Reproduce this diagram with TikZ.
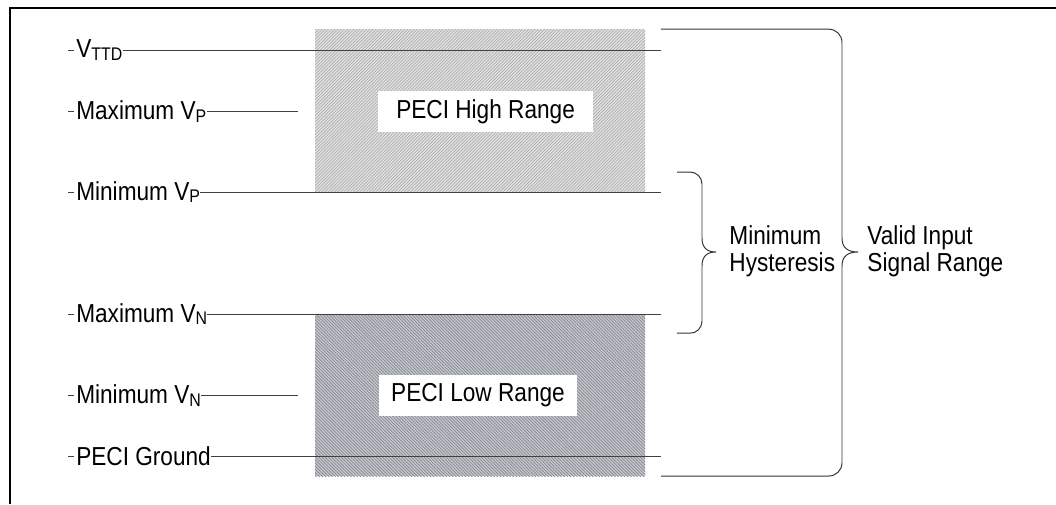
\documentclass[tikz,border=0pt]{standalone}
\usepackage{fontspec}
\setmainfont{Liberation Sans}[FakeStretch=0.87]
\usepackage{tikz}
\usetikzlibrary{patterns.meta}
\definecolor{hifill}{RGB}{226,226,226}
\definecolor{hihatch}{RGB}{172,172,172}
\definecolor{lofill}{RGB}{200,202,208}
\definecolor{lohatch}{RGB}{138,140,150}
\newcommand{\sbs}[1]{\raisebox{-2pt}{\fontsize{13}{13}\selectfont #1}}

\begin{document}
\begin{tikzpicture}[font=\fontsize{18.5}{19.2}\selectfont,
  lvl/.style={draw=black!75,line width=0.7pt},
  lbl/.style={anchor=west,inner sep=0pt},
  rng/.style={fill=white,inner sep=0pt,minimum height=1.03cm},
  brc/.style={draw=black!80,line width=0.7pt},
  note/.style={anchor=west,align=left,inner sep=0pt}]
\useasboundingbox (0,0) rectangle (26.40,-12.60);
\draw[line width=1.5pt] (0.25,-12.60)--(0.25,-0.19)--(26.40,-0.19);
\fill[hifill] (7.88,-0.73) rectangle (16.13,-4.80);
\fill[pattern={Lines[angle=45,distance=1.6pt,line width=0.5pt]},pattern color=hihatch] (7.88,-0.73) rectangle (16.13,-4.80);
\fill[lofill] (7.88,-7.85) rectangle (16.13,-11.90);
\fill[pattern={Lines[angle=-45,distance=1.6pt,line width=0.6pt]},pattern color=lohatch] (7.88,-7.85) rectangle (16.13,-11.90);
\node[rng,minimum width=5.38cm] (high) at (12.14,-2.79) {PECI High Range};
\node[rng,minimum width=4.95cm] (low) at (11.95,-9.89) {PECI Low Range};
\coordinate (t1) at (1.70,-1.25);
\node[lbl] (l1) at (1.90,-1.25) {V\sbs{TTD}};
\coordinate (e1) at (16.53,-1.25);
\draw[lvl] (t1)--+(0.15,0) (l1.east)--(e1);
\coordinate (t2) at (1.70,-2.78);
\node[lbl] (l2) at (1.90,-2.78) {Maximum V\sbs{P}};
\coordinate (e2) at (7.45,-2.78);
\draw[lvl] (t2)--+(0.15,0) (l2.east)--(e2);
\coordinate (t3) at (1.70,-4.80);
\node[lbl] (l3) at (1.90,-4.80) {Minimum V\sbs{P}};
\coordinate (e3) at (16.53,-4.80);
\draw[lvl] (t3)--+(0.15,0) (l3.east)--(e3);
\coordinate (t4) at (1.70,-7.85);
\node[lbl] (l4) at (1.90,-7.85) {Maximum V\sbs{N}};
\coordinate (e4) at (16.53,-7.85);
\draw[lvl] (t4)--+(0.15,0) (l4.east)--(e4);
\coordinate (t5) at (1.70,-9.88);
\node[lbl] (l5) at (1.90,-9.88) {Minimum V\sbs{N}};
\coordinate (e5) at (7.45,-9.88);
\draw[lvl] (t5)--+(0.15,0) (l5.east)--(e5);
\coordinate (t6) at (1.70,-11.40);
\node[lbl] (l6) at (1.90,-11.40) {PECI Ground};
\coordinate (e6) at (16.53,-11.40);
\draw[lvl] (t6)--+(0.15,0) (l6.east)--(e6);
\coordinate (bt) at (16.53,-0.73);
\coordinate (bb) at (16.53,-11.90);
\draw[brc] (bt)--(20.72,-0.73) arc[start angle=90,end angle=0,radius=0.33]--(21.05,-5.95)
  .. controls (21.05,-6.20) and (21.20,-6.30) .. (21.45,-6.30)
  .. controls (21.20,-6.30) and (21.05,-6.40) .. (21.05,-6.65)
  --(21.05,-11.57) arc[start angle=0,end angle=-90,radius=0.33]--(bb);
\coordinate (st) at (16.93,-4.30);
\coordinate (sb) at (16.93,-8.33);
\draw[brc] (st)--(17.25,-4.30) arc[start angle=90,end angle=0,radius=0.30]--(17.55,-5.95)
  .. controls (17.55,-6.20) and (17.68,-6.30) .. (17.90,-6.30)
  .. controls (17.68,-6.30) and (17.55,-6.40) .. (17.55,-6.65)
  --(17.55,-8.03) arc[start angle=0,end angle=-90,radius=0.30]--(sb);
\node[note] (hys) at (18.23,-6.28) {Minimum\\Hysteresis};
\node[note] (vis) at (21.68,-6.28) {Valid Input\\Signal Range};
\end{tikzpicture}
\end{document}
